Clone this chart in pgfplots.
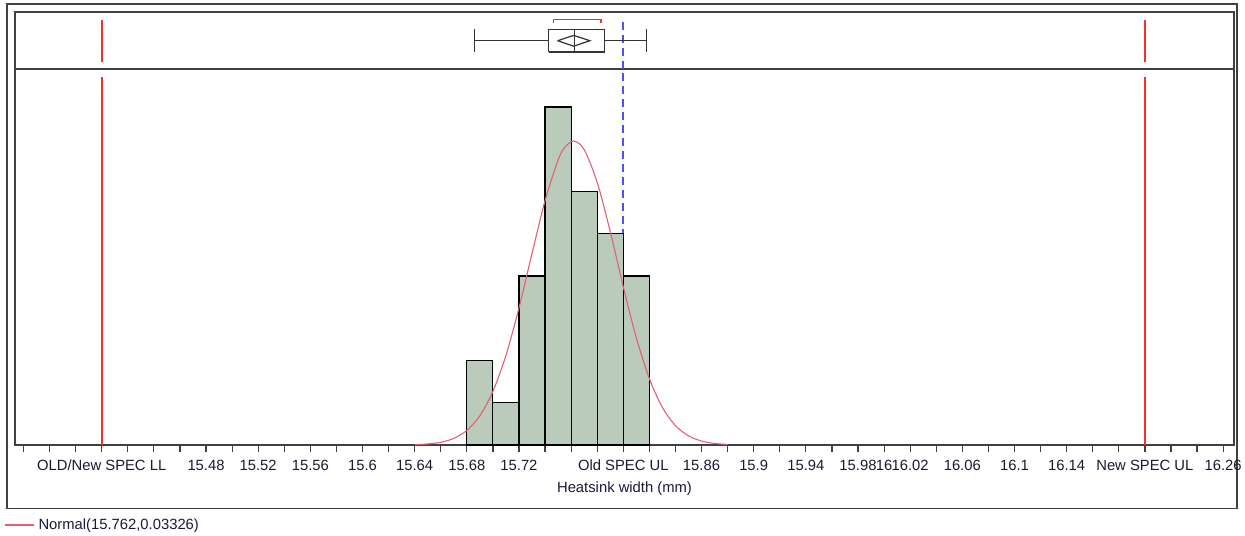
\documentclass[border=0pt]{standalone}
\usepackage{fontspec}
\setmainfont{Liberation Sans}
\usepackage{pgfplots}
\pgfplotsset{compat=1.18}

\definecolor{barfill}{RGB}{187,203,187}
\definecolor{speccol}{RGB}{250,45,45}
\definecolor{curvecol}{RGB}{228,95,115}
\definecolor{refblue}{RGB}{80,80,250}
\definecolor{framecol}{RGB}{64,64,64}
\definecolor{txtcol}{RGB}{25,25,55}

\pgfplotsset{
  jmp/.style={
    scale only axis,
    width=609.5pt,
    xmin=15.3335, xmax=16.2684,
    axis line style={framecol, line width=0.75pt},
    ytick=\empty,
    clip=true,
  },
}

\begin{document}
\fontsize{7.4}{8.8}\selectfont
\begin{tikzpicture}
\useasboundingbox (0pt,0pt) rectangle (622.5pt,-267.5pt);

% outer frame
\draw[framecol, line width=0.75pt] (3.6pt,-2pt) rectangle (618.5pt,-254.2pt);

%% histogram panel
\begin{axis}[
  jmp,
  at={(7.5pt,-222.5pt)}, anchor=south west,
  height=188pt,
  ymin=0, ymax=8.9,
  xtick={15.34,15.36,...,16.27},
  xticklabels={},
  xtick pos=bottom,
  tick align=outside,
  major tick length=3.6pt,
  x tick style={framecol, line width=0.6pt},
  extra x ticks={15.40,15.48,15.52,15.56,15.60,15.64,15.68,15.72,15.80,15.86,
                 15.90,15.94,15.98,16.00,16.02,16.06,16.10,16.14,16.20,16.26},
  extra x tick labels={OLD/New SPEC LL,15.48,15.52,15.56,15.6,15.64,15.68,15.72,
                 Old SPEC UL,15.86,15.9,15.94,15.98,16,16.02,16.06,16.1,16.14,
                 New SPEC UL,16.26},
  extra x tick style={major tick length=0pt},
  xticklabel style={font=\fontsize{7.4}{8.8}\selectfont, text=txtcol,
                    anchor=base, yshift=-12.6pt, inner sep=0pt},
  xlabel={Heatsink width (mm)},
  xlabel style={font=\fontsize{7.4}{8.8}\selectfont, text=txtcol,
                at={(axis description cs:0.5,0)}, anchor=base, yshift=-23.5pt,
                inner sep=0pt},
  legend style={at={(axis description cs:0,0)}, anchor=west,
                xshift=-5.5pt, yshift=-40pt, draw=none, fill=none,
                font=\fontsize{7.4}{8.8}\selectfont, text=txtcol,
                inner sep=0pt, row sep=0pt},
  legend image code/.code={\draw[#1] (0pt,0pt) -- (14.5pt,0pt);},
  legend cell align=left,
]
% spec limits
\addplot[draw=speccol, line width=0.9pt, forget plot] coordinates {(15.40,0)(15.40,8.71)};
\addplot[draw=speccol, line width=0.9pt, forget plot] coordinates {(16.20,0)(16.20,8.71)};
% old upper spec (dashed)
\addplot[draw=refblue, line width=0.9pt, dash pattern=on 4pt off 2.5pt, forget plot]
  coordinates {(15.80,0)(15.80,8.9)};
% histogram, counts per 0.02 bin
\addplot[ybar interval, fill=barfill, draw=black, line width=0.55pt, forget plot]
  coordinates {(15.68,2)(15.70,1)(15.72,4)(15.74,8)(15.76,6)(15.78,5)(15.80,4)(15.82,4)};
% fitted normal, scaled to counts
\addplot[curvecol, line width=0.55pt, smooth] coordinates {
  (15.640,0.009)(15.650,0.025)(15.660,0.065)(15.670,0.157)(15.680,0.345)
  (15.690,0.691)(15.700,1.267)(15.710,2.120)(15.720,3.243)(15.730,4.531)
  (15.740,5.783)(15.750,6.744)(15.755,7.039)(15.762,7.197)(15.770,6.992)
  (15.780,6.216)(15.790,5.050)(15.800,3.747)(15.810,2.540)(15.820,1.573)
  (15.830,0.890)(15.840,0.460)(15.850,0.217)(15.860,0.094)(15.870,0.037)
  (15.880,0.013)};
\addlegendentry{Normal(15.762,0.03326)}
\end{axis}

%% box plot panel
\begin{axis}[
  jmp,
  at={(7.5pt,-34.5pt)}, anchor=south west,
  height=28.5pt,
  ymin=0, ymax=57,
  xtick=\empty,
]
\addplot[draw=speccol, line width=0.9pt] coordinates {(15.40,7)(15.40,49)};
\addplot[draw=speccol, line width=0.9pt] coordinates {(16.20,7)(16.20,49)};
\addplot[draw=refblue, line width=0.9pt, dash pattern=on 4pt off 2.5pt]
  coordinates {(15.80,0)(15.80,49)};
% whiskers
\addplot[black!80, line width=0.6pt] coordinates {(15.686,28.3)(15.7427,28.3)};
\addplot[black!80, line width=0.6pt] coordinates {(15.7853,28.3)(15.818,28.3)};
\addplot[black!80, line width=0.6pt] coordinates {(15.686,17)(15.686,39.5)};
\addplot[black!80, line width=0.6pt] coordinates {(15.818,17)(15.818,39.5)};
% box and median
\addplot[black!80, line width=0.6pt] coordinates
  {(15.7427,17)(15.7853,17)(15.7853,39.7)(15.7427,39.7)(15.7427,17)};
\addplot[black!80, line width=0.6pt] coordinates {(15.7628,17)(15.7628,39.7)};
% means diamond
\addplot[black!80, line width=0.6pt] coordinates
  {(15.7496,28.3)(15.762,33.6)(15.7744,28.3)(15.762,22.8)(15.7496,28.3)};
% shortest half bracket
\addplot[draw=speccol, line width=0.7pt] coordinates
  {(15.7466,45.5)(15.7466,49.7)(15.7830,49.7)(15.7830,45.5)};
\end{axis}
\end{tikzpicture}
\end{document}
